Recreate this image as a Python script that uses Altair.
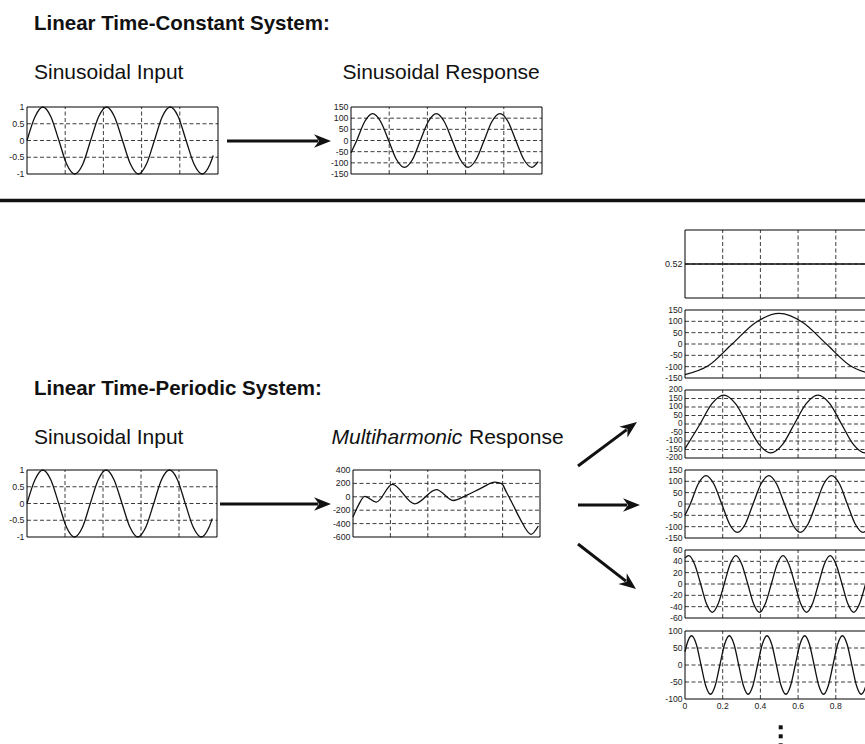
import math

import altair as alt
import pandas as pd

FONT = "Liberation Sans"
INK = "#111111"
GRID = "#262626"
W, H = 865, 744

# ---------------------------------------------------------------- text
HEAD_LTC = "Linear Time-Constant System:"
HEAD_LTP = "Linear Time-Periodic System:"
INPUT_TEXT = "Sinusoidal Input"
LTC_RESPONSE_TEXT = "Sinusoidal Response"
MULTI_WORD = "Multiharmonic"
RESPONSE_WORD = "Response"

# ---------------------------------------------------------------- time axis
T_GRID = [0.2, 0.4, 0.6, 0.8]
T_LABELS = [0, 0.2, 0.4, 0.6, 0.8]

# ---------------------------------------------------------------- sinusoidal input
sin_t = [0, 0.042, 0.083, 0.125, 0.167, 0.208, 0.25, 0.292, 0.333, 0.375, 0.417, 0.458,
         0.5, 0.542, 0.583, 0.625, 0.667, 0.708, 0.75, 0.792, 0.833, 0.875, 0.917, 0.958, 0.975]
sin_v = [0, 0.71, 1, 0.71, 0, -0.71, -1, -0.71, 0, 0.71, 1, 0.71,
         0, -0.71, -1, -0.71, 0, 0.71, 1, 0.71, 0, -0.71, -1, -0.71, -0.45]
sin_ticks = [-1, -0.5, 0, 0.5, 1]

# ---------------------------------------------------------------- LTC response
ltc_t = [0, 0.03, 0.072, 0.113, 0.155, 0.197, 0.238, 0.28, 0.322, 0.363, 0.405, 0.447,
         0.488, 0.53, 0.572, 0.613, 0.655, 0.697, 0.738, 0.78, 0.822, 0.863, 0.905, 0.947, 0.98]
ltc_v = [-55, 0, 85, 120, 85, 0, -85, -120, -85, 0, 85, 120,
         85, 0, -85, -120, -85, 0, 85, 120, 85, 0, -85, -120, -95]
ltc_ticks = [-150, -100, -50, 0, 50, 100, 150]

# ---------------------------------------------------------------- LTP multiharmonic response
mh_t = [0, 0.03, 0.0625, 0.125, 0.21, 0.33, 0.446, 0.536, 0.607, 0.68, 0.759,
        0.795, 0.82, 0.857, 0.893, 0.952, 0.991]
mh_v = [-300, -120, 5, -80, 185, -105, 108, -55, 22, 121, 220,
        196, 72, -127, -326, -560, -436]
mh_ticks = [-600, -400, -200, 0, 200, 400]

# ---------------------------------------------------------------- harmonic components
h0_t = [0, 1]
h0_v = [0.52, 0.52]
h0_ticks = [0.52]

h1_t = [0, 0.125, 0.25, 0.375, 0.5, 0.625, 0.75, 0.875, 1.0]
h1_v = [-135, -95, 0, 95, 135, 95, 0, -95, -135]
h1_ticks = [-150, -100, -50, 0, 50, 100, 150]

h2_t = [0, 0.08, 0.143, 0.205, 0.268, 0.33, 0.393, 0.455, 0.518, 0.58, 0.643, 0.705,
        0.768, 0.83, 0.893, 0.955, 1.0]
h2_v = [-145, 0, 120, 170, 120, 0, -120, -170, -120, 0, 120, 170,
        120, 0, -120, -170, -145]
h2_ticks = [-200, -150, -100, -50, 0, 50, 100, 150, 200]

h3_t = [0, 0.028, 0.07, 0.111, 0.153, 0.195, 0.236, 0.278, 0.32, 0.361, 0.403, 0.445,
        0.486, 0.528, 0.57, 0.611, 0.653, 0.695, 0.736, 0.778, 0.82, 0.861, 0.903,
        0.945, 0.986, 1.0]
h3_v = [-50, 0, 88, 125, 88, 0, -88, -125, -88, 0, 88, 125,
        88, 0, -88, -125, -88, 0, 88, 125, 88, 0, -88,
        -125, -88, -70]
h3_ticks = [-150, -100, -50, 0, 50, 100, 150]

h4_t = [0, 0.02, 0.051, 0.083, 0.114, 0.145, 0.176, 0.208, 0.239, 0.27, 0.301, 0.333,
        0.364, 0.395, 0.426, 0.458, 0.489, 0.52, 0.551, 0.583, 0.614, 0.645, 0.676,
        0.708, 0.739, 0.77, 0.801, 0.833, 0.864, 0.895, 0.926, 0.958, 0.989, 1.0]
h4_v = [46, 50, 35, 0, -35, -50, -35, 0, 35, 50, 35, 0,
        -35, -50, -35, 0, 35, 50, 35, 0, -35, -50, -35,
        0, 35, 50, 35, 0, -35, -50, -35, 0, 35, 44]
h4_ticks = [-60, -40, -20, 0, 20, 40, 60]

h5_t = [0, 0.01, 0.035, 0.06, 0.085, 0.11, 0.135, 0.16, 0.185, 0.21, 0.235, 0.26,
        0.285, 0.31, 0.335, 0.36, 0.385, 0.41, 0.435, 0.46, 0.485, 0.51, 0.535, 0.56,
        0.585, 0.61, 0.635, 0.66, 0.685, 0.71, 0.735, 0.76, 0.785, 0.81, 0.835, 0.86,
        0.885, 0.91, 0.935, 0.96, 0.985, 1.0]
h5_v = [39, 61, 86, 61, 0, -61, -86, -61, 0, 61, 86, 61,
        0, -61, -86, -61, 0, 61, 86, 61, 0, -61, -86, -61,
        0, 61, 86, 61, 0, -61, -86, -61, 0, 61, 86, 61,
        0, -61, -86, -61, 0, 39]
h5_ticks = [-100, -50, 0, 50, 100]


def fmt(v):
    return f"{v:g}"


def panel(t, v, ticks, domain, box, tick_size=8.8, x_labels=False):
    """One small framed plot with dashed grid, drawn on its own x/y scales."""
    x0, x1, ytop, ybot = box
    xs = alt.Scale(domain=[0, 1], range=[x0, x1], nice=False, zero=False)
    ys = alt.Scale(domain=list(domain), range=[ybot, ytop], nice=False, zero=False)

    def X(f):
        return alt.X(f, type="quantitative", scale=xs, axis=None)

    def Y(f):
        return alt.Y(f, type="quantitative", scale=ys, axis=None)

    lo, hi = domain
    inner = [k for k in ticks if lo < k < hi]
    dash = dict(strokeDash=[4, 2.5], color=GRID, strokeWidth=0.9)

    layers = []
    if inner:
        layers.append(
            alt.Chart(pd.DataFrame({"v": inner, "a": 0, "b": 1}))
            .mark_rule(**dash)
            .encode(x=X("a"), x2="b", y=Y("v"))
        )
    layers.append(
        alt.Chart(pd.DataFrame({"t": T_GRID, "lo": lo, "hi": hi}))
        .mark_rule(**dash)
        .encode(x=X("t"), y=Y("lo"), y2="hi")
    )
    layers.append(
        alt.Chart(pd.DataFrame({"a": [0], "b": [1], "lo": [lo], "hi": [hi]}))
        .mark_rect(filled=False, color="black", strokeWidth=1)
        .encode(x=X("a"), x2="b", y=Y("lo"), y2="hi")
    )
    layers.append(
        alt.Chart(pd.DataFrame({"v": ticks, "a": 0, "label": [fmt(k) for k in ticks]}))
        .mark_text(align="right", baseline="middle", dx=-2.5, font=FONT,
                   fontSize=tick_size, color="#222222")
        .encode(x=X("a"), y=Y("v"), text="label:N")
    )
    if x_labels:
        layers.append(
            alt.Chart(pd.DataFrame({"t": T_LABELS, "lo": lo,
                                    "label": [fmt(k) for k in T_LABELS]}))
            .mark_text(align="center", baseline="top", dy=3, font=FONT,
                       fontSize=tick_size, color="#222222")
            .encode(x=X("t"), y=Y("lo"), text="label:N")
        )
    layers.append(
        alt.Chart(pd.DataFrame({"t": t, "v": v}))
        .mark_line(interpolate="monotone", color=INK, strokeWidth=1.3)
        .encode(x=X("t"), y=Y("v"))
    )
    return alt.layer(*layers)


def text(s, x, y, size=21, weight="normal", style="normal"):
    return (
        alt.Chart(pd.DataFrame({"s": [s]}))
        .mark_text(align="left", baseline="alphabetic", font=FONT, fontSize=size,
                   fontWeight=weight, fontStyle=style, color=INK)
        .encode(x=alt.value(x), y=alt.value(y), text="s:N")
    )


DART = "M1,0 L-1,-0.8 L-0.4,0 L-1,0.8 Z"


def arrow(xa, ya, xb, yb, head=17.0, width=3):
    """Shaft from (xa, ya) to a dart-shaped head whose tip sits at (xb, yb)."""
    ang = math.atan2(yb - ya, xb - xa)
    half = head / 2.0
    cx, cy = xb - half * math.cos(ang), yb - half * math.sin(ang)
    sx, sy = xb - head * 0.75 * math.cos(ang), yb - head * 0.75 * math.sin(ang)
    one = pd.DataFrame({"k": [0]})
    shaft = alt.Chart(one).mark_rule(color=INK, strokeWidth=width).encode(
        x=alt.value(xa), y=alt.value(ya), x2=alt.value(sx), y2=alt.value(sy)
    )
    tip = alt.Chart(one).mark_point(
        shape=DART, filled=True, size=head * head, color=INK, opacity=1, strokeWidth=0
    ).encode(x=alt.value(cx), y=alt.value(cy), angle=alt.value(math.degrees(ang) % 360))
    return [shaft, tip]


# ---------------------------------------------------------------- panels
RX0, RX1 = 685, 873.5
tops = [230, 310, 390, 470, 550, 631]
RH = 68

panels = [
    panel(sin_t, sin_v, sin_ticks, (-1, 1), (27, 218, 107, 174)),
    panel(ltc_t, ltc_v, ltc_ticks, (-150, 150), (351, 542, 107, 174)),
    panel(sin_t, sin_v, sin_ticks, (-1, 1), (27, 217, 470, 537)),
    panel(mh_t, mh_v, mh_ticks, (-600, 400), (353, 540, 470, 537)),
    panel(h0_t, h0_v, h0_ticks, (0.5, 0.54), (RX0, RX1, tops[0], tops[0] + RH), 9),
    panel(h1_t, h1_v, h1_ticks, (-150, 150), (RX0, RX1, tops[1], tops[1] + RH), 8.6),
    panel(h2_t, h2_v, h2_ticks, (-200, 200), (RX0, RX1, tops[2], tops[2] + RH), 8.2),
    panel(h3_t, h3_v, h3_ticks, (-150, 150), (RX0, RX1, tops[3], tops[3] + RH), 8.6),
    panel(h4_t, h4_v, h4_ticks, (-60, 60), (RX0, RX1, tops[4], tops[4] + RH), 8.6),
    panel(h5_t, h5_v, h5_ticks, (-100, 100), (RX0, RX1, tops[5], tops[5] + RH), 8.6,
          x_labels=True),
]

labels = [
    text(HEAD_LTC, 34, 30, 20.5, weight="bold"),
    text(INPUT_TEXT, 34, 79),
    text(LTC_RESPONSE_TEXT, 342.5, 79),
    text(HEAD_LTP, 34, 395, 20.5, weight="bold"),
    text(INPUT_TEXT, 34, 444),
    text(MULTI_WORD, 331.5, 444, style="italic"),
    text(RESPONSE_WORD, 469, 444),
]

divider = (
    alt.Chart(pd.DataFrame({"k": [0]}))
    .mark_rule(color=INK, strokeWidth=3.5)
    .encode(x=alt.value(0), x2=alt.value(W), y=alt.value(200.5))
)

arrows = (
    arrow(227, 141, 331, 141)
    + arrow(220, 504, 331, 504)
    + arrow(578, 466, 637, 422)
    + arrow(578, 505, 640, 505)
    + arrow(578, 544, 636, 589)
)

dots = [
    alt.Chart(pd.DataFrame({"k": [0]}))
    .mark_square(size=16, color=INK, opacity=1)
    .encode(x=alt.value(780.7), y=alt.value(yy))
    for yy in (727.3, 736.3, 745.3)
]

chart = (
    alt.layer(*panels, *labels, divider, *arrows, *dots)
    .resolve_scale(x="independent", y="independent")
    .properties(width=W, height=H, autosize=alt.AutoSizeParams(type="none"),
                padding=0, background="white")
    .configure_view(strokeWidth=0)
)

chart.save("out.html", embed_options={"renderer": "svg", "actions": False})
